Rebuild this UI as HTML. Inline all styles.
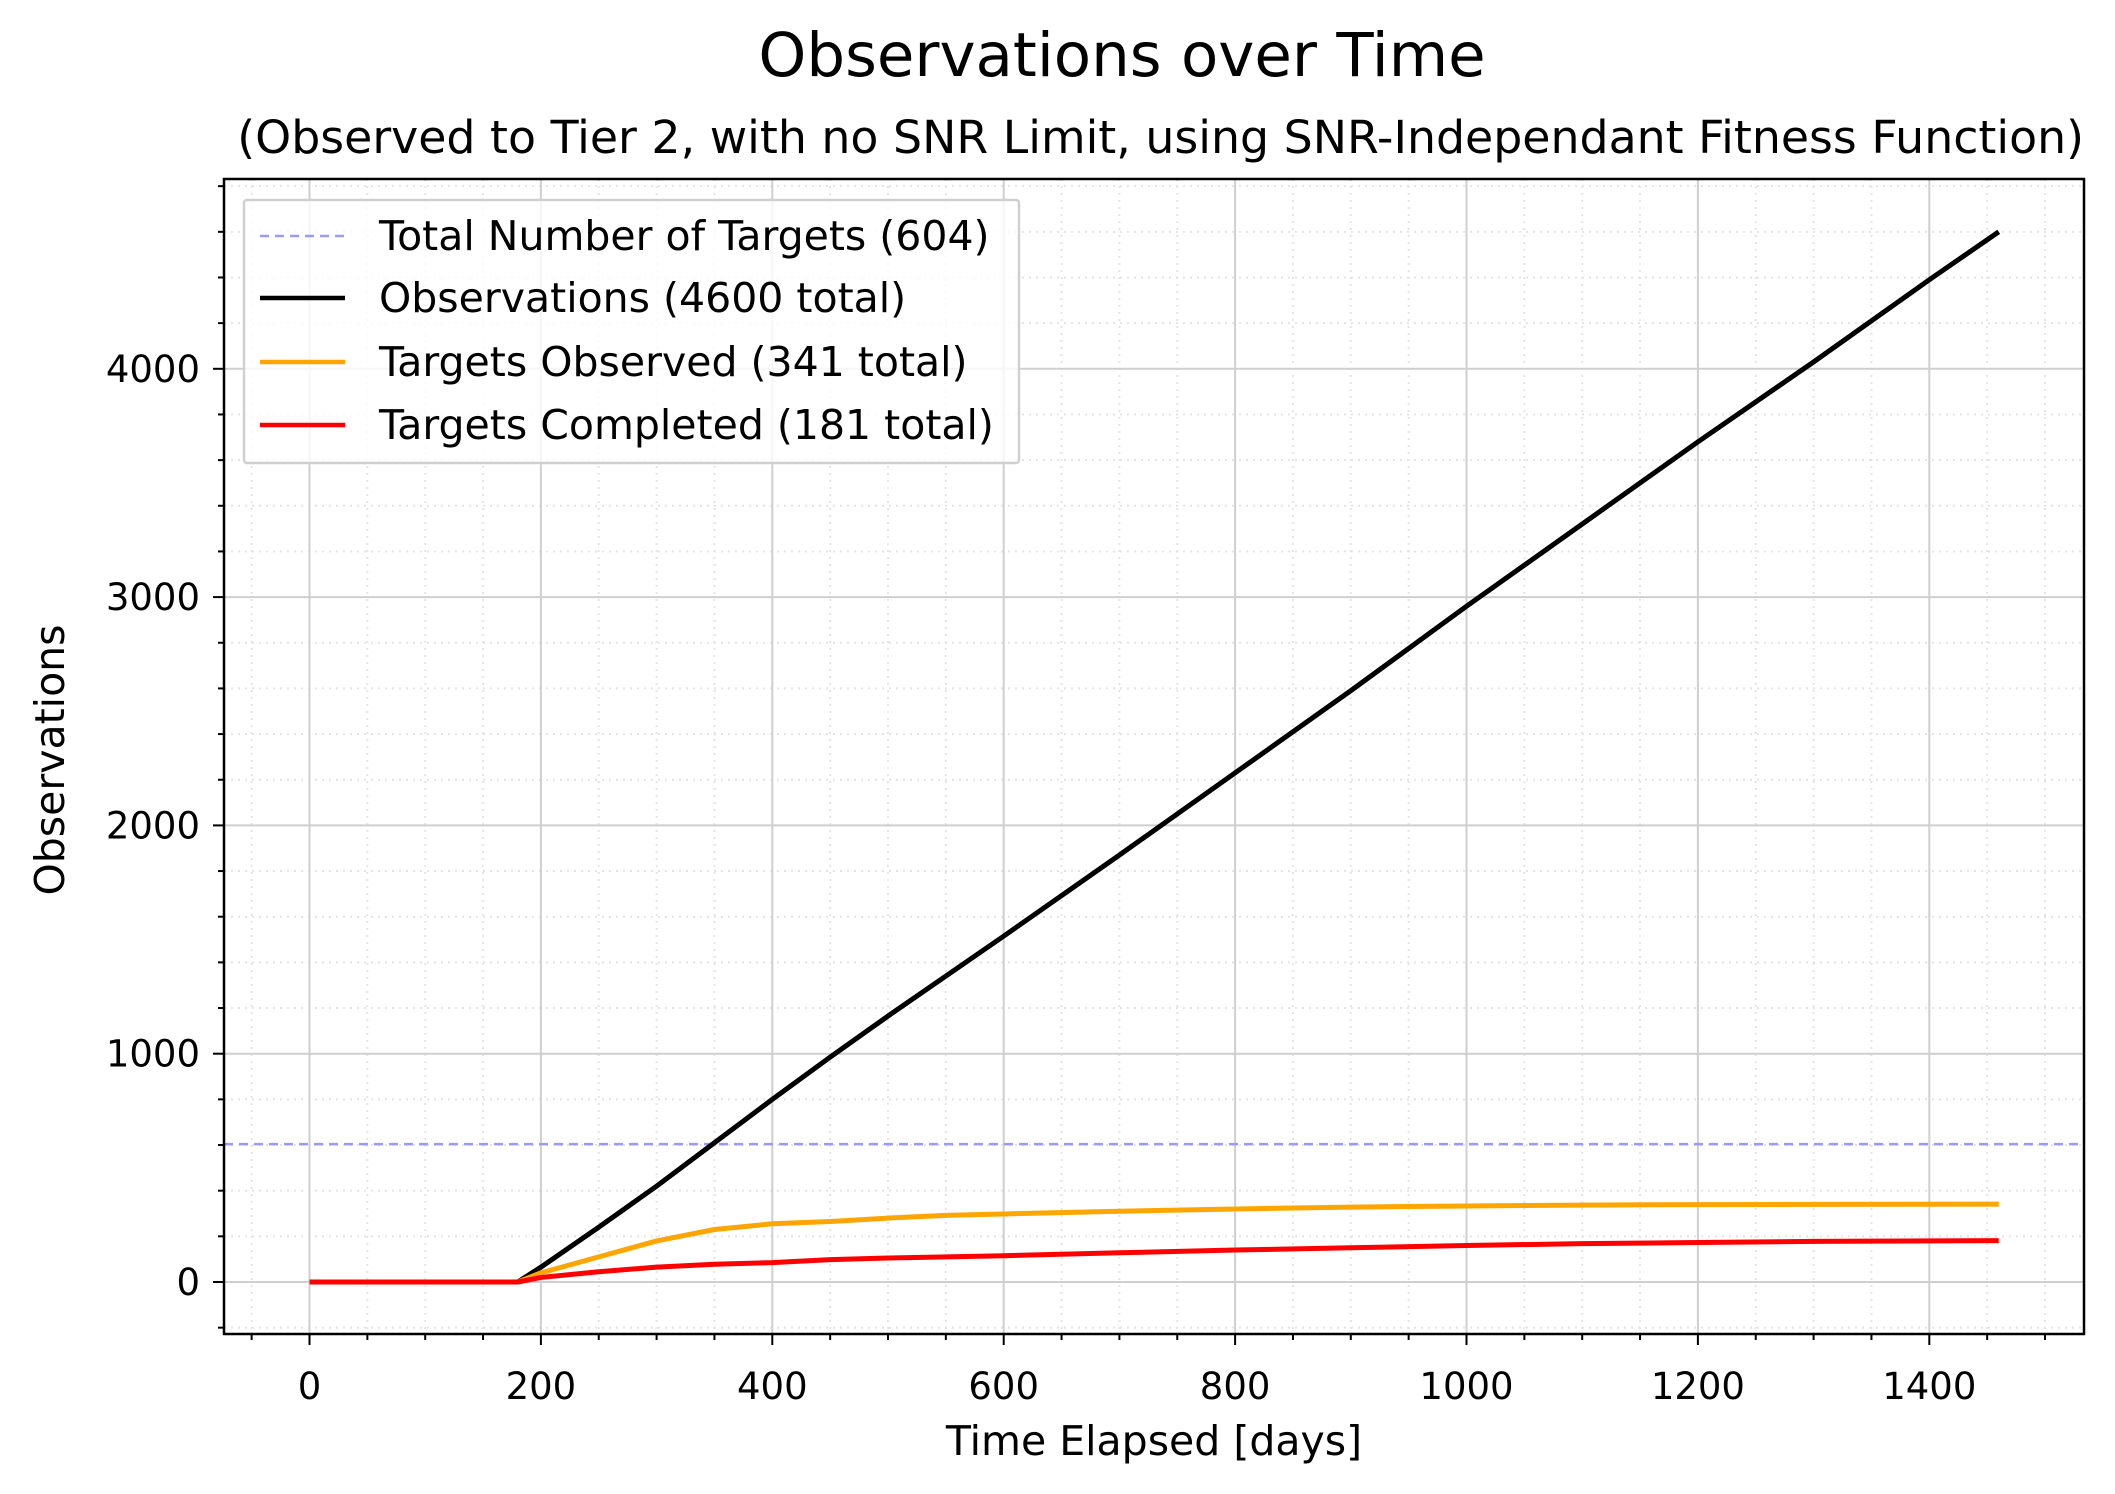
<!DOCTYPE html>
<html><head><meta charset="utf-8"><style>
html,body{margin:0;padding:0;background:#fff;}
svg{display:block;font-family:"DejaVu Sans","Liberation Sans",sans-serif;}
</style></head><body>
<svg id="chart" width="2115" height="1494" viewBox="0 0 2115 1494" xmlns="http://www.w3.org/2000/svg">
<rect width="2115" height="1494" fill="#fff"/>
<text x="1122" y="76" font-size="61" text-anchor="middle">Observations over Time</text>
<text x="2084" y="153" font-size="45.8" text-anchor="end">(Observed to Tier 2, with no SNR Limit, using SNR-Independant Fitness Function)</text>
<g id="grid"></g>
<g id="series"></g>
<g id="axes"></g>
<text x="1154" y="1455" font-size="41" text-anchor="middle">Time Elapsed [days]</text>
<text transform="translate(64,760) rotate(-90)" font-size="41" text-anchor="middle">Observations</text>
<g id="legend">
<rect x="244" y="200" width="775" height="263" fill="#fff" fill-opacity="0.8" stroke="#d0d0d0" stroke-width="2.5" rx="3"/>
<line x1="260" y1="236" x2="345" y2="236" stroke="#9999ff" stroke-width="2.5" stroke-dasharray="9,6"/>
<text x="379" y="250" font-size="41">Total Number of Targets (604)</text>
<line x1="260" y1="298" x2="345" y2="298" stroke="#000" stroke-width="4.5"/>
<text x="379" y="312" font-size="41">Observations (4600 total)</text>
<line x1="260" y1="362" x2="345" y2="362" stroke="#ffa500" stroke-width="4.5"/>
<text x="379" y="376" font-size="41">Targets Observed (341 total)</text>
<line x1="260" y1="425" x2="345" y2="425" stroke="#ff0000" stroke-width="4.5"/>
<text x="379" y="439" font-size="41">Targets Completed (181 total)</text>
</g>
</svg>
<script>
const xTicks = [0,200,400,600,800,1000,1200,1400];
const yTicks = [0,1000,2000,3000,4000];
const totalTargets = 604;
const obsDays = [0,180,200,250,300,350,400,450,500,600,700,800,900,1000,1100,1200,1300,1400,1460];
const obsValues = [0,0,65,240,420,610,800,985,1165,1515,1870,2230,2590,2960,3320,3680,4030,4390,4600];
const seenDays = [0,180,200,250,300,350,400,450,500,550,600,700,800,900,1000,1100,1200,1300,1460];
const seenValues = [0,0,40,110,180,230,255,265,280,292,298,310,320,328,333,337,339,340,341];
const doneDays = [0,180,200,250,300,350,400,450,500,600,700,800,900,1000,1100,1200,1300,1460];
const doneValues = [0,0,20,45,65,78,85,98,105,115,128,140,150,160,168,173,178,181];

const L=224,R=2084,T=179,B=1334;
const X=d=>309.5+1.157*d;
const Y=v=>1282-0.2283*v;
const NS="http://www.w3.org/2000/svg";
function mk(tag,attrs,parent){const e=document.createElementNS(NS,tag);for(const k in attrs)e.setAttribute(k,attrs[k]);parent.appendChild(e);return e;}
const grid=document.getElementById('grid'),axes=document.getElementById('axes'),series=document.getElementById('series');
for(let d=-50;d<=1500;d+=50){if(d%200===0)continue;const e=mk('line',{x1:X(d),x2:X(d),y1:T,y2:B,stroke:'#e4e4e4','stroke-width':2,'stroke-dasharray':'2,5'},grid);


const t=mk('line',{x1:X(d),x2:X(d),y1:B,y2:B+6,stroke:'#000','stroke-width':2},axes);

}
for(let v=-200;v<=4800;v+=200){if(v%1000===0)continue;const e=mk('line',{x1:L,x2:R,y1:Y(v),y2:Y(v),stroke:'#e4e4e4','stroke-width':2,'stroke-dasharray':'2,5'},grid);


const t=mk('line',{x1:L-6,x2:L,y1:Y(v),y2:Y(v),stroke:'#000','stroke-width':2},axes);

}
xTicks.forEach(d=>{const g=mk('line',{x1:X(d),x2:X(d),y1:T,y2:B,stroke:'#cfcfcf','stroke-width':2},grid);


const t=mk('line',{x1:X(d),x2:X(d),y1:B,y2:B+11,stroke:'#000','stroke-width':2},axes);


const l=mk('text',{x:X(d),y:1399,'font-size':37,'text-anchor':'middle'},axes);l.textContent=d;

});
yTicks.forEach(v=>{const g=mk('line',{x1:L,x2:R,y1:Y(v),y2:Y(v),stroke:'#cfcfcf','stroke-width':2},grid);


const t=mk('line',{x1:L-11,x2:L,y1:Y(v),y2:Y(v),stroke:'#000','stroke-width':2},axes);


const l=mk('text',{x:200,y:Y(v)+13,'font-size':37,'text-anchor':'end'},axes);l.textContent=v;

});
const fr=mk('rect',{x:L,y:T,width:R-L,height:B-T,fill:'none',stroke:'#000','stroke-width':2.5},axes);


const tl=mk('line',{x1:L,x2:R,y1:Y(totalTargets),y2:Y(totalTargets),stroke:'#9999ff','stroke-width':2.5,'stroke-dasharray':'9,6'},series);


function line(days,vals,color,name){const p=mk('polyline',{points:days.map((d,i)=>X(d)+','+Y(vals[i])).join(' '),fill:'none',stroke:color,'stroke-width':5,'stroke-linejoin':'round'},series);

}
line(obsDays,obsValues,'#000','observations-line');
line(seenDays,seenValues,'#ffa500','targets-observed-line');
line(doneDays,doneValues,'#ff0000','targets-completed-line');
</script>
</body></html>
